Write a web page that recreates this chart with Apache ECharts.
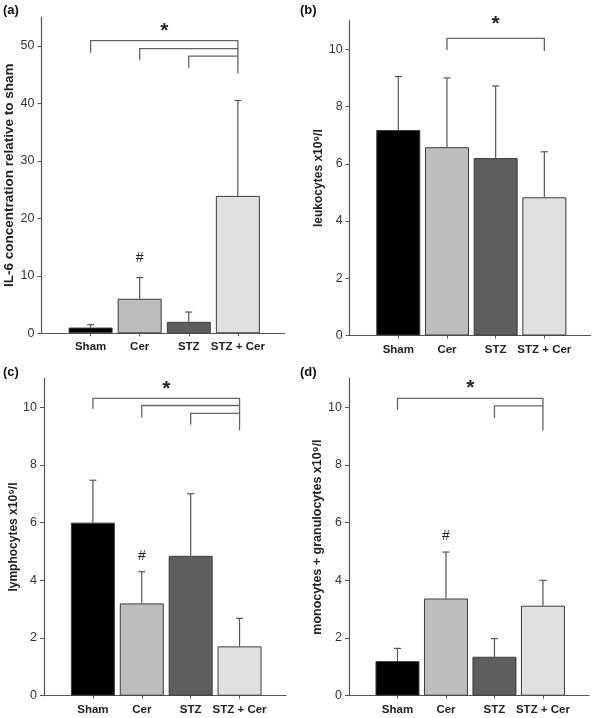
<!DOCTYPE html>
<html>
<head>
<meta charset="utf-8">
<script src="https://cdn.jsdelivr.net/npm/echarts@6/dist/echarts.min.js"></script>
<style>
html,body{margin:0;padding:0;background:#fff;}
#chart{width:594px;height:718px;}
</style>
</head>
<body>
<div id="chart"></div>
<script>
// ---- data ----
const categories = ['Sham', 'Cer', 'STZ', 'STZ + Cer'];
const categoryIdx = [0, 1, 2, 3];

// (a) IL-6 concentration relative to sham
const il6Mean  = [1.0, 6.0, 2.0, 23.9];
const il6Upper = [1.5, 9.7, 3.7, 40.5];
const il6Ticks = [0, 10, 20, 30, 40, 50];
// brackets: [from, to, level, leftDrop, rightDrop]
const il6Brackets = [[0, 3, 50.9, 48.8, 45.2], [1, 3, 49.5, 47.5, 49.5], [2, 3, 48.2, 46.2, 48.2]];
const il6Marks = [[1.5, 53.3, '*'], [1, 13.0, '#']];

// (b) leukocytes
const leukoMean  = [7.18, 6.58, 6.2, 4.83];
const leukoUpper = [9.05, 9.0, 8.72, 6.42];
const leukoBrackets = [[1, 3, 10.38, 9.98, 9.94]];
const leukoMarks = [[2, 11.0, '*']];

// (c) lymphocytes
const lymphoMean  = [6.0, 3.2, 4.85, 1.71];
const lymphoUpper = [7.47, 4.3, 7.0, 2.68];
const lymphoBrackets = [[0, 3, 10.31, 9.94, 9.19], [1, 3, 10.06, 9.64, 10.06], [2, 3, 9.79, 9.39, 9.79]];
const lymphoMarks = [[1.5, 10.75, '*'], [1, 4.84, '#']];

// (d) monocytes + granulocytes
const monoMean  = [1.2, 3.37, 1.35, 3.12];
const monoUpper = [1.64, 4.98, 1.98, 4.0];
const monoBrackets = [[0, 3, 10.31, 9.91, 9.19], [2, 3, 10.05, 9.63, 10.05]];
const monoMarks = [[1.5, 10.8, '*'], [1, 5.53, '#']];

const cellTicks = [0, 2, 4, 6, 8, 10];

// ---- styling ----
const FONT = 'Liberation Sans, Arial, sans-serif';
const barColors = ['#000000', '#bdbdbd', '#5e5e5e', '#e0e0e0'];
const AXIS = '#555555';

const grids = [
  {left: 41.5, top: 17.1, width: 243, height: 316.2},
  {left: 349.6, top: 20.7, width: 241, height: 314.8},
  {left: 44, top: 378.4, width: 242, height: 317.3},
  {left: 349, top: 378.4, width: 240, height: 317.3}
];

const panels = [
  {mean: il6Mean, upper: il6Upper, brackets: il6Brackets, marks: il6Marks, yMax: 55, yTicks: il6Ticks,
   name: 'IL-6 concentration relative to sham', gap: 24, nameSize: 13.5, label: '(a)'},
  {mean: leukoMean, upper: leukoUpper, brackets: leukoBrackets, marks: leukoMarks, yMax: 11, yTicks: cellTicks,
   name: 'leukocytes x10⁹/l', gap: 20, nameSize: 12, label: '(b)'},
  {mean: lymphoMean, upper: lymphoUpper, brackets: lymphoBrackets, marks: lymphoMarks, yMax: 11, yTicks: cellTicks,
   name: 'lymphocytes x10⁹/l', gap: 22, nameSize: 12, label: '(c)'},
  {mean: monoMean, upper: monoUpper, brackets: monoBrackets, marks: monoMarks, yMax: 11, yTicks: cellTicks,
   name: 'monocytes + granulocytes x10⁹/l', gap: 20, nameSize: 12.5, label: '(d)'}
];

const xAxes = [], yAxes = [], series = [], graphics = [];

panels.forEach((p, k) => {
  xAxes.push({
    gridIndex: k, type: 'value', min: -1, max: 3.95,
    axisLine: {show: true, onZero: false, lineStyle: {color: AXIS, width: 1.2}},
    axisTick: {show: true, length: 3, customValues: categoryIdx, lineStyle: {color: AXIS}},
    splitLine: {show: false},
    axisLabel: {
      customValues: categoryIdx, margin: 8,
      formatter: v => categories[Math.round(v)],
      fontFamily: FONT, fontWeight: 'bold', fontSize: 11.5, color: '#222'
    }
  });
  yAxes.push({
    gridIndex: k, type: 'value', min: 0, max: p.yMax,
    name: p.name, nameLocation: 'middle', nameGap: p.gap, nameRotate: 90,
    nameTextStyle: {fontFamily: FONT, fontWeight: 'bold', fontSize: p.nameSize, color: '#222'},
    axisLine: {show: true, onZero: false, lineStyle: {color: AXIS, width: 1.2}},
    axisTick: {show: true, length: 4, inside: false, customValues: p.yTicks, lineStyle: {color: AXIS}},
    splitLine: {show: false},
    axisLabel: {customValues: p.yTicks, margin: 7, fontFamily: FONT, fontSize: 12.5, color: '#333'}
  });
  series.push({
    type: 'bar', xAxisIndex: k, yAxisIndex: k, barWidth: 44, z: 2,
    itemStyle: {borderColor: '#3c3c3c', borderWidth: 1},
    data: p.mean.map((v, i) => ({value: [i, v], itemStyle: {color: barColors[i]}}))
  });
  series.push({
    type: 'custom', xAxisIndex: k, yAxisIndex: k, z: 3,
    encode: {x: 0, y: [1, 2]},
    data: p.mean.map((v, i) => [i, v, p.upper[i]]),
    renderItem: (params, api) => {
      const a = api.coord([api.value(0), api.value(1)]);
      const b = api.coord([api.value(0), api.value(2)]);
      const st = {stroke: '#555', lineWidth: 1.2};
      return {type: 'group', children: [
        {type: 'line', shape: {x1: a[0], y1: a[1], x2: b[0], y2: b[1]}, style: st},
        {type: 'line', shape: {x1: b[0] - 3.5, y1: b[1], x2: b[0] + 3.5, y2: b[1]}, style: st}
      ]};
    }
  });
  series.push({
    type: 'custom', xAxisIndex: k, yAxisIndex: k, z: 3,
    encode: {x: [0, 1], y: [2, 3, 4]},
    data: p.brackets,
    renderItem: (params, api) => {
      const f = api.value(0), t = api.value(1), lv = api.value(2), ld = api.value(3), rd = api.value(4);
      const pts = [api.coord([f, ld]), api.coord([f, lv]), api.coord([t, lv]), api.coord([t, rd])];
      return {type: 'polyline', shape: {points: pts}, style: {stroke: '#666', lineWidth: 1.3, fill: null}};
    }
  });
  series.push({
    type: 'custom', xAxisIndex: k, yAxisIndex: k, z: 4,
    encode: {x: 0, y: 1},
    data: p.marks.map(m => [m[0], m[1]]),
    renderItem: (params, api) => {
      const c = api.coord([api.value(0), api.value(1)]);
      const txt = p.marks[params.dataIndex][2];
      const star = txt === '*';
      return {type: 'text', x: c[0], y: c[1] + (star ? 4 : 0), style: {
        text: txt, textAlign: 'center', textVerticalAlign: 'middle',
        font: (star ? 'bold 21px ' : '14px ') + FONT, fill: '#222'
      }};
    }
  });
  graphics.push({
    type: 'text', left: k % 2 === 0 ? 3 : 300, top: k < 2 ? 4 : 366,
    style: {text: p.label, font: 'bold 13px ' + FONT, fill: '#111'}
  });
});

const chart = echarts.init(document.getElementById('chart'), null, {renderer: 'canvas'});
chart.setOption({
  backgroundColor: '#fff',
  animation: false,
  grid: grids.map(g => Object.assign({containLabel: false}, g)),
  xAxis: xAxes,
  yAxis: yAxes,
  series: series,
  graphic: graphics
});
</script>
</body>
</html>
